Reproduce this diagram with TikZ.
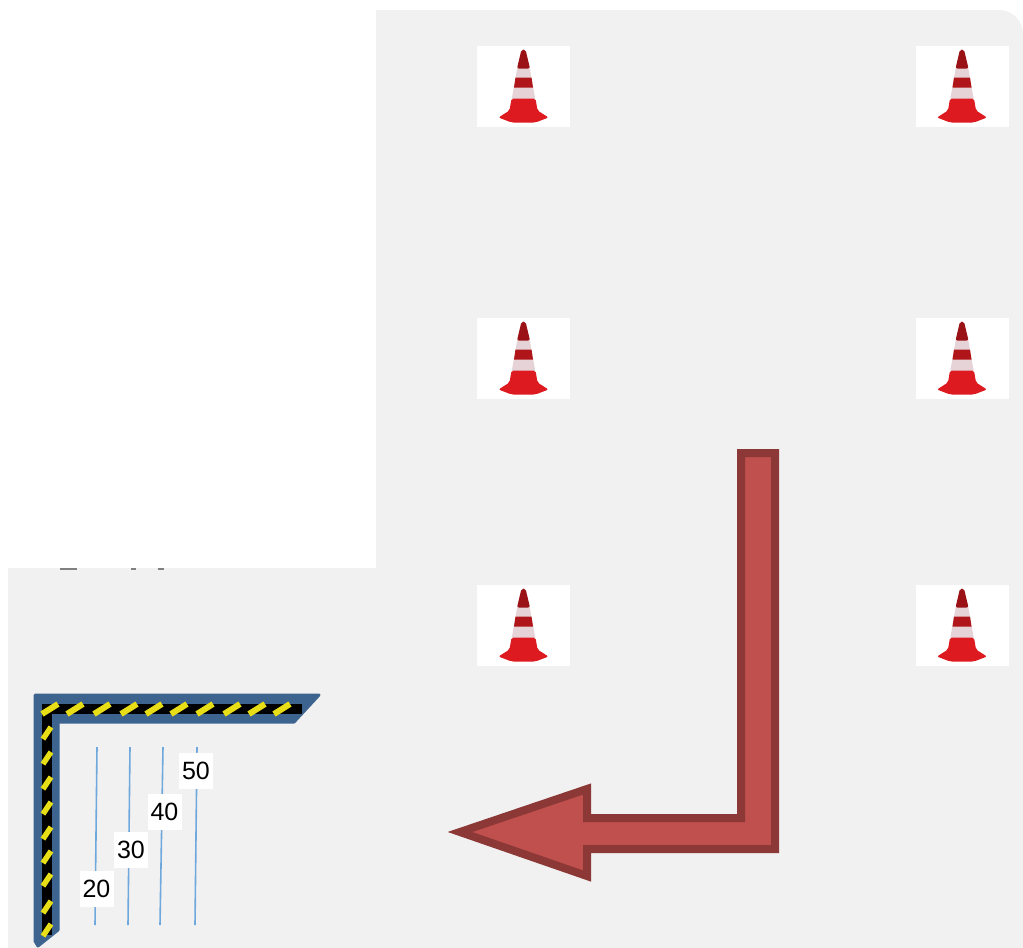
\documentclass[tikz,border=0pt]{standalone}
\usepackage{fontspec}
\setmainfont{Liberation Sans}
\definecolor{panelgray}{HTML}{F1F1F1}
\definecolor{conered}{HTML}{DC1A20}
\definecolor{conepink}{HTML}{E6D3D8}
\definecolor{arrowfill}{HTML}{C0504D}
\definecolor{arrowline}{HTML}{8C3836}
\definecolor{barblue}{HTML}{3D638F}
\definecolor{lineblue}{HTML}{6FA8DC}
\tikzset{
  conepic/.pic={
    \fill[white] (-46.5,-40.5) rectangle (46.5,40.5);
    \fill[conepink] (-6,-20) -- (6,-20) -- (12,14) -- (-12,14) -- cycle;
    \fill[conered!70!black, rounded corners=2pt] (-2,-37) -- (2,-37) -- (6.5,-18) -- (-6.5,-18) -- cycle;
    \fill[conered!80!black] (-8,-9) -- (8,-9) -- (9.5,1) -- (-9.5,1) -- cycle;
    \fill[conered, rounded corners=2pt] (-12,12) -- (12,12) -- (14,24) -- (25,31) -- (12,36) -- (-12,36) -- (-25,31) -- (-14,24) -- cycle;
  },
  marklabel/.style={fill=white, inner sep=0pt, minimum width=34pt, minimum height=36pt, font=\fontsize{25}{30}\selectfont}
}
\begin{document}
\begin{tikzpicture}[x=1pt,y=-1pt]
  \useasboundingbox (0,0) rectangle (1023,948);
  \fill[white] (0,0) rectangle (1023,948);
  \fill[panelgray] (376,10) [rounded corners=24pt] -- (1023,10) [sharp corners] -- (1023,948) -- (8,948) -- (8,568) -- (376,568) -- cycle;
  \draw[gray, line width=1.2pt] (60,569) -- (77,569) (131,569) -- (136,569) (158,569) -- (164,569);
  \foreach \px in {523.5,962} \foreach \py in {86.5,358.5,625.5} \pic at (\px,\py) {conepic};
  \draw[arrowline, fill=arrowfill, line width=8pt, miter limit=10] (741,453) -- (775,453) -- (775,849) -- (587,849) -- (587,876) -- (460,832) -- (587,789) -- (587,818) -- (741,818) -- cycle;
  \draw[barblue, fill=barblue, line width=3pt, line join=round] (35,695) -- (319,695) -- (294,722) -- (58,722) -- (58,930) -- (38,946) -- (35,941) -- cycle;
  \draw[black, line width=10pt] (47,935) -- (47,709) -- (302,709);
  \foreach \x in {50,75,102,129,154,179,205,232,257,282} \draw[yellow!90!black, line width=6pt] (\x-8,714) -- (\x+8,704);
  \foreach \y in {733,758,783,808,833,857,880,907,930} \draw[yellow!90!black, line width=5.5pt] (43,\y+6) -- (51,\y-6);
  \draw[lineblue, line width=1.6pt] (97,747) -- (95,925);
  \draw[lineblue, line width=1.6pt] (130,747) -- (128,925);
  \draw[lineblue, line width=1.6pt] (163,747) -- (160,925);
  \draw[lineblue, line width=1.6pt] (197,747) -- (195,925);
  \node[marklabel] (mark20) at (96.5,889) {20};
  \node[marklabel] (mark30) at (131,850) {30};
  \node[marklabel] (mark40) at (164.5,812) {40};
  \node[marklabel] (mark50) at (196,771) {50};
\end{tikzpicture}
\end{document}
